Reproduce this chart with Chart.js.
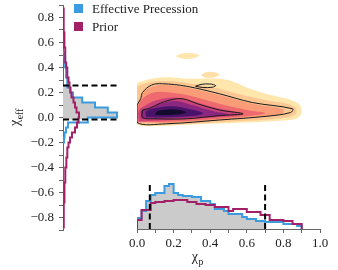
<!DOCTYPE html>
<html>
<head>
<meta charset="utf-8">
<script src="https://cdn.jsdelivr.net/npm/chart.js@4"></script>
<style>
html, body { margin: 0; padding: 0; background: #fff; }
#wrap { position: relative; width: 338px; height: 270px; }
#wrap canvas { position: absolute; left: 0; top: 0; }
</style>
</head>
<body>
<div id="wrap">
<canvas id="density" width="338" height="270"></canvas>
<canvas id="chiEff" width="338" height="270"></canvas>
<canvas id="chiP" width="338" height="270"></canvas>
</div>
<script>
// chi_eff histogram (horizontal), bin edges and densities
const effEdges = [-0.88,-0.84,-0.80,-0.76,-0.72,-0.68,-0.64,-0.60,-0.56,-0.52,-0.48,-0.44,-0.40,-0.36,-0.32,-0.28,-0.24,-0.20,-0.16,-0.12,-0.08,-0.04,0.00,0.04,0.08,0.12,0.16,0.20,0.24,0.28,0.32,0.36,0.40,0.44,0.48,0.52,0.56,0.60,0.64,0.68,0.72,0.76,0.80,0.84,0.88];
const effPrecession = [0,0,0,0,0,0,0,0,0,0,0,0,0,0,0,0,0,0.12,0.19,0.38,0.62,3.1,6.75,5.6,4.0,2.4,1.25,0.88,0.62,0.5,0.38,0.38,0.31,0.25,0.19,0,0,0,0,0,0,0,0,0];
const effPrior = [0.04,0.08,0.1,0.12,0.12,0.15,0.16,0.19,0.21,0.25,0.28,0.31,0.38,0.44,0.5,0.56,0.69,0.88,1.12,1.5,1.75,1.94,2.0,1.69,1.5,1.31,1.06,0.94,0.81,0.69,0.62,0.5,0.4,0.32,0.29,0.25,0.21,0.19,0.15,0.12,0.12,0.1,0.09,0.06];
const effInterval = [-0.016, 0.256];
const effTicks = [-0.9,-0.8,-0.7,-0.6,-0.5,-0.4,-0.3,-0.2,-0.1,0,0.1,0.2,0.3,0.4,0.5,0.6,0.7,0.8,0.9];

// chi_p histogram
const chiPEdges = [0,0.025,0.05,0.075,0.1,0.125,0.15,0.175,0.2,0.225,0.25,0.275,0.3,0.325,0.35,0.375,0.4,0.425,0.45,0.475,0.5,0.525,0.55,0.575,0.6,0.625,0.65,0.675,0.7,0.725,0.75,0.775,0.8,0.825,0.85,0.875,0.9];
const chiPPrecession = [0.73,1.2,1.87,2.27,2.4,2.4,2.87,3.0,2.4,2.27,2.2,2.2,2.13,2.13,1.87,1.87,1.67,1.33,1.33,1.2,1.0,1.0,1.0,0.8,0.67,0.67,0.53,0.53,0.47,0.47,0.47,0.47,0.33,0.33,0.33,0.2];
const chiPPrior = [0.6,1.27,1.27,1.73,1.8,1.8,1.87,1.87,1.93,1.93,1.93,1.8,1.8,1.67,1.67,1.6,1.6,1.47,1.47,1.47,1.2,1.33,1.33,1.33,1.13,1.13,1.13,0.93,0.93,0.6,0.6,0.6,0.53,0.53,0.33,0.33];
const chiPInterval = [0.07, 0.70];
const chiPShade = [0, 0.70];
const chiPTicks = [0,0.1,0.2,0.3,0.4,0.5,0.6,0.7,0.8,0.9,1.0];

// joint density, filled levels from outside in: [chi_p, chi_eff]
const level1 = [[0,-0.06],[0,0.27],[0.03,0.29],[0.08,0.31],[0.13,0.32],[0.2,0.32],[0.27,0.31],[0.36,0.31],[0.45,0.31],[0.52,0.29],[0.6,0.24],[0.68,0.2],[0.76,0.17],[0.84,0.14],[0.89,0.1],[0.9,0.04],[0.87,-0.01],[0.78,-0.025],[0.6,-0.04],[0.4,-0.05],[0.25,-0.06],[0.1,-0.07],[0.02,-0.065]];
const islandTop = [[0.21,0.49],[0.24,0.51],[0.3,0.515],[0.34,0.5],[0.31,0.475],[0.25,0.47]];
const islandMid = [[0.35,0.34],[0.38,0.365],[0.43,0.36],[0.45,0.34],[0.42,0.32],[0.37,0.32]];
const level2 = [[0,-0.05],[0,0.24],[0.04,0.27],[0.1,0.29],[0.2,0.29],[0.3,0.27],[0.42,0.24],[0.55,0.19],[0.7,0.14],[0.82,0.11],[0.87,0.07],[0.86,0.02],[0.76,-0.01],[0.55,-0.03],[0.3,-0.05],[0.1,-0.06]];
const level3 = [[0,-0.04],[0,0.1],[0.02,0.15],[0.04,0.21],[0.09,0.25],[0.15,0.26],[0.27,0.24],[0.45,0.18],[0.63,0.11],[0.8,0.065],[0.79,0.03],[0.7,0.01],[0.45,-0.02],[0.16,-0.045]];
const level4 = [[0.005,-0.035],[0.005,0.08],[0.03,0.15],[0.09,0.2],[0.18,0.2],[0.3,0.17],[0.45,0.11],[0.6,0.06],[0.7,0.035],[0.6,0.01],[0.4,-0.015],[0.15,-0.035]];
const level5 = [[0.01,-0.03],[0.01,0.055],[0.05,0.1],[0.11,0.14],[0.2,0.16],[0.28,0.14],[0.4,0.09],[0.55,0.04],[0.58,0.025],[0.45,0.005],[0.25,-0.015],[0.1,-0.025]];
const level6 = [[0.025,-0.01],[0.025,0.055],[0.08,0.08],[0.15,0.12],[0.22,0.13],[0.3,0.1],[0.42,0.05],[0.5,0.025],[0.38,0.008],[0.2,-0.005],[0.08,-0.01]];
const level7 = [[0.05,0.005],[0.05,0.05],[0.12,0.08],[0.2,0.09],[0.28,0.07],[0.36,0.035],[0.3,0.012],[0.17,0.003]];
const level8 = [[0.1,0.02],[0.11,0.05],[0.17,0.065],[0.24,0.058],[0.27,0.04],[0.2,0.022]];
// black contour lines
const contourOuter = [[0,0.1],[0.02,0.15],[0.03,0.2],[0.08,0.26],[0.14,0.27],[0.27,0.25],[0.45,0.19],[0.63,0.12],[0.85,0.07],[0.84,0.04],[0.71,0.01],[0.45,-0.02],[0.16,-0.05],[0,-0.04]];
const contourInner = [[0.03,0.06],[0.07,0.075],[0.12,0.11],[0.18,0.14],[0.25,0.15],[0.33,0.11],[0.45,0.06],[0.58,0.03],[0.45,0.015],[0.27,-0.01],[0.09,-0.01],[0.03,0.0]];
const contourIsland = [[0.32,0.25],[0.35,0.265],[0.4,0.268],[0.43,0.255],[0.41,0.242],[0.36,0.24]];

const BLUE = '#3a9be0';
const PURPLE = '#a31f66';
const GREY = '#cbcbcb';
const AXIS = '#666';

Chart.defaults.font.family = '"Liberation Serif", "DejaVu Serif", serif';
Chart.defaults.font.size = 13;
Chart.defaults.color = '#222';
Chart.defaults.animation = false;

// histogram outline as step path, d = density, v = bin coordinate
function stepPoints(edges, values) {
    const first = values.findIndex(v => v > 0);
    let last = values.length - 1;
    while (last > 0 && values[last] <= 0) last--;
    const pts = [{d: 0, v: edges[first]}];
    for (let i = first; i <= last; i++) {
        pts.push({d: values[i], v: edges[i]}, {d: values[i], v: edges[i + 1]});
    }
    pts.push({d: 0, v: edges[last + 1]});
    return pts;
}

function shadePoints(edges, values, lo, hi) {
    const pts = [{d: 0, v: lo}];
    for (let i = 0; i < values.length; i++) {
        const a = Math.max(edges[i], lo), b = Math.min(edges[i + 1], hi);
        if (a < b) pts.push({d: values[i], v: a}, {d: values[i], v: b});
    }
    pts.push({d: 0, v: hi});
    return pts;
}

const horiz = pts => pts.map(p => ({x: p.d, y: p.v}));
const vert = pts => pts.map(p => ({x: p.v, y: p.d}));
const closed = arr => arr.concat([arr[0]]).map(p => ({x: p[0], y: p[1]}));

function tickLabel(v) {
    const r = Math.round(v * 10);
    if (r % 2 !== 0) return '';
    return (r < 0 ? '\u2212' : '') + Math.abs(v).toFixed(1);
}

function drawSub(ctx, base, sub, x, y, size) {
    ctx.font = size + 'px "Liberation Serif"';
    const wb = ctx.measureText(base).width;
    ctx.font = (size * 0.7) + 'px "Liberation Serif"';
    const ws = ctx.measureText(sub).width;
    const x0 = x - (wb + ws) / 2;
    ctx.font = size + 'px "Liberation Serif"';
    ctx.fillText(base, x0, y);
    ctx.font = (size * 0.7) + 'px "Liberation Serif"';
    ctx.fillText(sub, x0 + wb + 0.5, y + size * 0.25);
}

function noPad(s) {
    s.paddingTop = 0; s.paddingBottom = 0; s.paddingLeft = 0; s.paddingRight = 0;
}

const stepLine = (data, color, order) => ({
    data, borderColor: color, borderWidth: 2, showLine: true, pointRadius: 0, fill: false, order
});
const dashLine = (data) => ({
    data, borderColor: '#000', borderWidth: 2, borderDash: [6, 3.5], showLine: true, pointRadius: 0, fill: false, order: 0
});
const shade = (data, color, order) => ({
    data, backgroundColor: color, borderColor: 'rgba(0,0,0,0)', borderWidth: 0, showLine: true, pointRadius: 0, fill: 'shape', order
});

// ---- joint density ----
const levelFill = (pts, color, order) => Object.assign(shade(closed(pts), color, order), {tension: 0.35});
const levelLine = (pts) => ({
    data: closed(pts), borderColor: '#1a1a1a', borderWidth: 1, showLine: true, pointRadius: 0, fill: false, tension: 0.35, order: 0
});

new Chart(document.getElementById('density'), {
    type: 'scatter',
    data: {
        datasets: [
            levelLine(contourOuter),
            levelLine(contourInner),
            levelLine(contourIsland),
            levelFill(level8, '#130a2e', 1),
            levelFill(level7, '#4a136a', 2),
            levelFill(level6, '#8c2780', 3),
            levelFill(level5, '#c9417a', 4),
            levelFill(level4, '#ee6a6f', 5),
            levelFill(level3, '#f99c77', 6),
            levelFill(level2, '#fdc794', 7),
            levelFill(level1, '#fee6ad', 8),
            levelFill(islandTop, '#fee6ad', 8),
            levelFill(islandMid, '#fee0a8', 8)
        ]
    },
    options: {
        responsive: false,
        events: [],
        layout: {padding: {left: 137, right: 18, top: 5, bottom: 40}},
        plugins: {legend: {display: false}, tooltip: {enabled: false}},
        scales: {
            x: {type: 'linear', min: 0, max: 1, display: false},
            y: {type: 'linear', min: -0.9, max: 0.9, display: false}
        }
    }
});

// ---- chi_eff marginal ----
const effBlueMax = Math.max(...effPrecession);
new Chart(document.getElementById('chiEff'), {
    type: 'scatter',
    data: {
        datasets: [
            dashLine([{x: 0, y: effInterval[0]}, {x: effBlueMax, y: effInterval[0]}]),
            dashLine([{x: 0, y: effInterval[1]}, {x: effBlueMax, y: effInterval[1]}]),
            Object.assign(stepLine(horiz(stepPoints(effEdges, effPrior)), PURPLE, 1), {label: 'Prior'}),
            Object.assign(stepLine(horiz(stepPoints(effEdges, effPrecession)), BLUE, 2), {label: 'Effective Precession'}),
            shade(horiz(shadePoints(effEdges, effPrecession, effInterval[0], effInterval[1])), GREY, 5)
        ]
    },
    options: {
        responsive: false,
        events: [],
        layout: {padding: {left: 0, right: 215, top: 5, bottom: 40}},
        plugins: {legend: {display: false}, tooltip: {enabled: false}},
        scales: {
            x: {type: 'linear', min: 0, max: 7.5, display: false},
            y: {
                type: 'linear', min: -0.9, max: 0.9, position: 'left',
                afterBuildTicks: s => { s.ticks = effTicks.map(v => ({value: v})); },
                afterFit: s => { s.width = 63; noPad(s); },
                ticks: {callback: v => tickLabel(v), padding: 5, autoSkip: false, font: {size: 13}, color: '#222'},
                grid: {drawOnChartArea: false, drawTicks: true, tickLength: 4, color: AXIS, tickColor: AXIS},
                border: {display: true, color: AXIS, width: 1}
            }
        }
    },
    plugins: [{
        id: 'effDecor',
        afterDraw(chart) {
            const ctx = chart.ctx;
            const left = chart.chartArea.left;
            ctx.save();
            ctx.textBaseline = 'alphabetic';
            ctx.font = '13px "Liberation Serif"';
            ctx.fillStyle = BLUE;
            ctx.fillRect(left + 11, 4, 9, 9);
            ctx.fillStyle = PURPLE;
            ctx.fillRect(left + 11, 22, 9, 9);
            ctx.fillStyle = '#222';
            ctx.fillText('Effective Precession', left + 29, 13);
            ctx.fillText('Prior', left + 29, 31);
            // y axis title
            ctx.translate(19, chart.scales.y.getPixelForValue(0));
            ctx.rotate(-Math.PI / 2);
            drawSub(ctx, '\u03c7', 'eff', 0, 0, 14);
            ctx.restore();
        }
    }]
});

// ---- chi_p marginal ----
const chiPBlueMax = Math.max(...chiPPrecession);
new Chart(document.getElementById('chiP'), {
    type: 'scatter',
    data: {
        datasets: [
            dashLine([{x: chiPInterval[0], y: 0}, {x: chiPInterval[0], y: chiPBlueMax}]),
            dashLine([{x: chiPInterval[1], y: 0}, {x: chiPInterval[1], y: chiPBlueMax}]),
            stepLine(vert(stepPoints(chiPEdges, chiPPrior)), PURPLE, 1),
            stepLine(vert(stepPoints(chiPEdges, chiPPrecession)), BLUE, 2),
            shade(vert(shadePoints(chiPEdges, chiPPrecession, chiPShade[0], chiPShade[1])), GREY, 5)
        ]
    },
    options: {
        responsive: false,
        events: [],
        layout: {padding: {left: 137, right: 18, top: 178, bottom: 0}},
        plugins: {legend: {display: false}, tooltip: {enabled: false}},
        scales: {
            x: {
                type: 'linear', min: 0, max: 1, position: 'bottom',
                afterBuildTicks: s => { s.ticks = chiPTicks.map(v => ({value: v})); },
                afterFit: s => { s.height = 41; noPad(s); },
                ticks: {callback: v => tickLabel(v), padding: 3, autoSkip: false, maxRotation: 0, font: {size: 13}, color: '#222'},
                grid: {drawOnChartArea: false, drawTicks: true, tickLength: 4, color: AXIS, tickColor: AXIS},
                border: {display: true, color: AXIS, width: 1}
            },
            y: {type: 'linear', min: 0, max: 3.4, display: false}
        }
    },
    plugins: [{
        id: 'chiPTitle',
        afterDraw(chart) {
            const ctx = chart.ctx;
            ctx.save();
            ctx.fillStyle = '#222';
            ctx.textBaseline = 'alphabetic';
            drawSub(ctx, '\u03c7', 'p', chart.scales.x.getPixelForValue(0.33), 261, 14);
            ctx.restore();
        }
    }]
});
</script>
</body>
</html>
